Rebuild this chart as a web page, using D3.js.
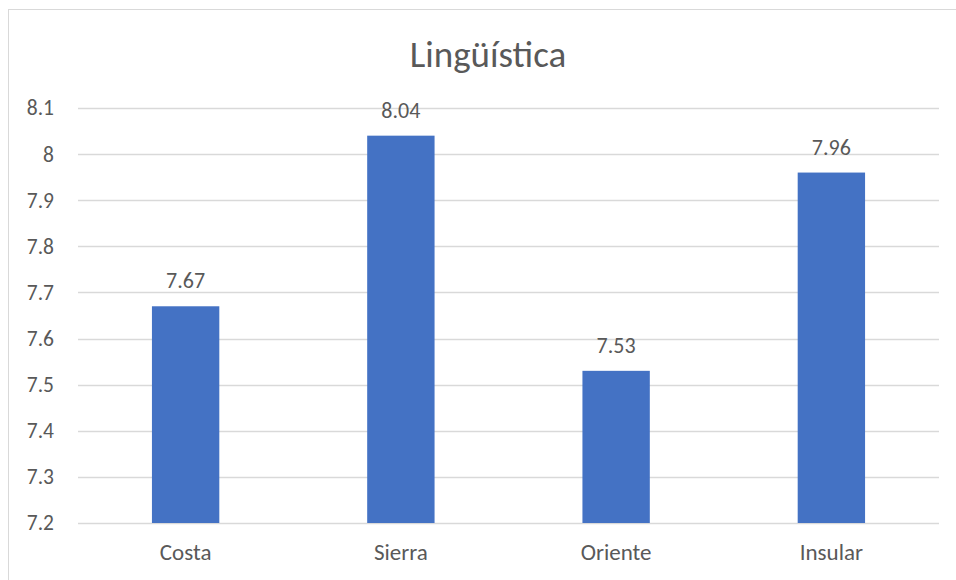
<!DOCTYPE html>
<html>
<head>
<meta charset="utf-8">
<script src="https://d3js.org/d3.v7.min.js"></script>
<style>
  body { margin: 0; background: #fff; }
  svg text { font-family: Carlito, Calibri, Lato, sans-serif; fill: #595959; }
</style>
</head>
<body>
<div id="chart"></div>
<script>
var categories = ['Costa', 'Sierra', 'Oriente', 'Insular'];
var values = [7.67, 8.04, 7.53, 7.96];
var yTicks = [7.2, 7.3, 7.4, 7.5, 7.6, 7.7, 7.8, 7.9, 8, 8.1];
var title = 'Lingüística';

var width = 956, height = 580;
var margin = { top: 108, right: 17, bottom: 57, left: 78 };
var innerW = width - margin.left - margin.right;
var innerH = height - margin.top - margin.bottom;

var svg = d3.select('#chart').append('svg')
  .attr('width', width)
  .attr('height', height);

// chart frame
svg.append('rect')
  .attr('x', 8.5).attr('y', 9.5)
  .attr('width', 960).attr('height', 600)
  .attr('fill', 'none')
  .attr('stroke', '#d9d9d9')
  .attr('stroke-width', 1);

svg.append('text')
  .attr('x', 488).attr('y', 67)
  .attr('text-anchor', 'middle')
  .attr('font-size', '37px')
  .attr('font-weight', 300)
  .text(title);

var g = svg.append('g')
  .attr('transform', 'translate(' + margin.left + ',' + margin.top + ')');

var x = d3.scaleBand()
  .domain(categories)
  .range([0, innerW])
  .paddingInner(0.687)
  .paddingOuter(0.3435);

var y = d3.scaleLinear()
  .domain([7.2, 8.1])
  .range([innerH, 0]);

// gridlines
g.selectAll('.grid')
  .data(yTicks)
  .enter().append('line')
  .attr('x1', 0).attr('x2', innerW)
  .attr('y1', function(d) { return Math.round(y(d)) + 0.5; })
  .attr('y2', function(d) { return Math.round(y(d)) + 0.5; })
  .attr('stroke', '#d9d9d9')
  .attr('stroke-width', 1.3);

// y axis labels
var yAxis = g.append('g')
  .call(d3.axisLeft(y).tickValues(yTicks).tickSize(0).tickPadding(24)
    .tickFormat(function(d) { return d3.format('')(+d.toFixed(1)); }));
yAxis.select('.domain').remove();
yAxis.selectAll('text').attr('font-size', '21.5px').attr('font-family', null).attr('fill', '#595959');

// x axis labels
var xAxis = g.append('g')
  .attr('transform', 'translate(0,' + innerH + ')')
  .call(d3.axisBottom(x).tickSize(0).tickPadding(21));
xAxis.select('.domain').remove();
xAxis.selectAll('text').attr('font-size', '23px').attr('font-family', null).attr('fill', '#595959');

// bars
g.selectAll('.bar')
  .data(values)
  .enter().append('rect')
  .attr('class', 'bar')
  .attr('x', function(d, i) { return x(categories[i]); })
  .attr('y', function(d) { return y(d); })
  .attr('width', x.bandwidth())
  .attr('height', function(d) { return innerH - y(d); })
  .attr('fill', '#4472c4');

// value labels
g.selectAll('.lbl')
  .data(values)
  .enter().append('text')
  .attr('x', function(d, i) { return x(categories[i]) + x.bandwidth() / 2; })
  .attr('y', function(d) { return y(d) - 18; })
  .attr('text-anchor', 'middle')
  .attr('font-size', '22px')
  .attr('fill', '#404040')
  .text(function(d) { return d; });
</script>
</body>
</html>
